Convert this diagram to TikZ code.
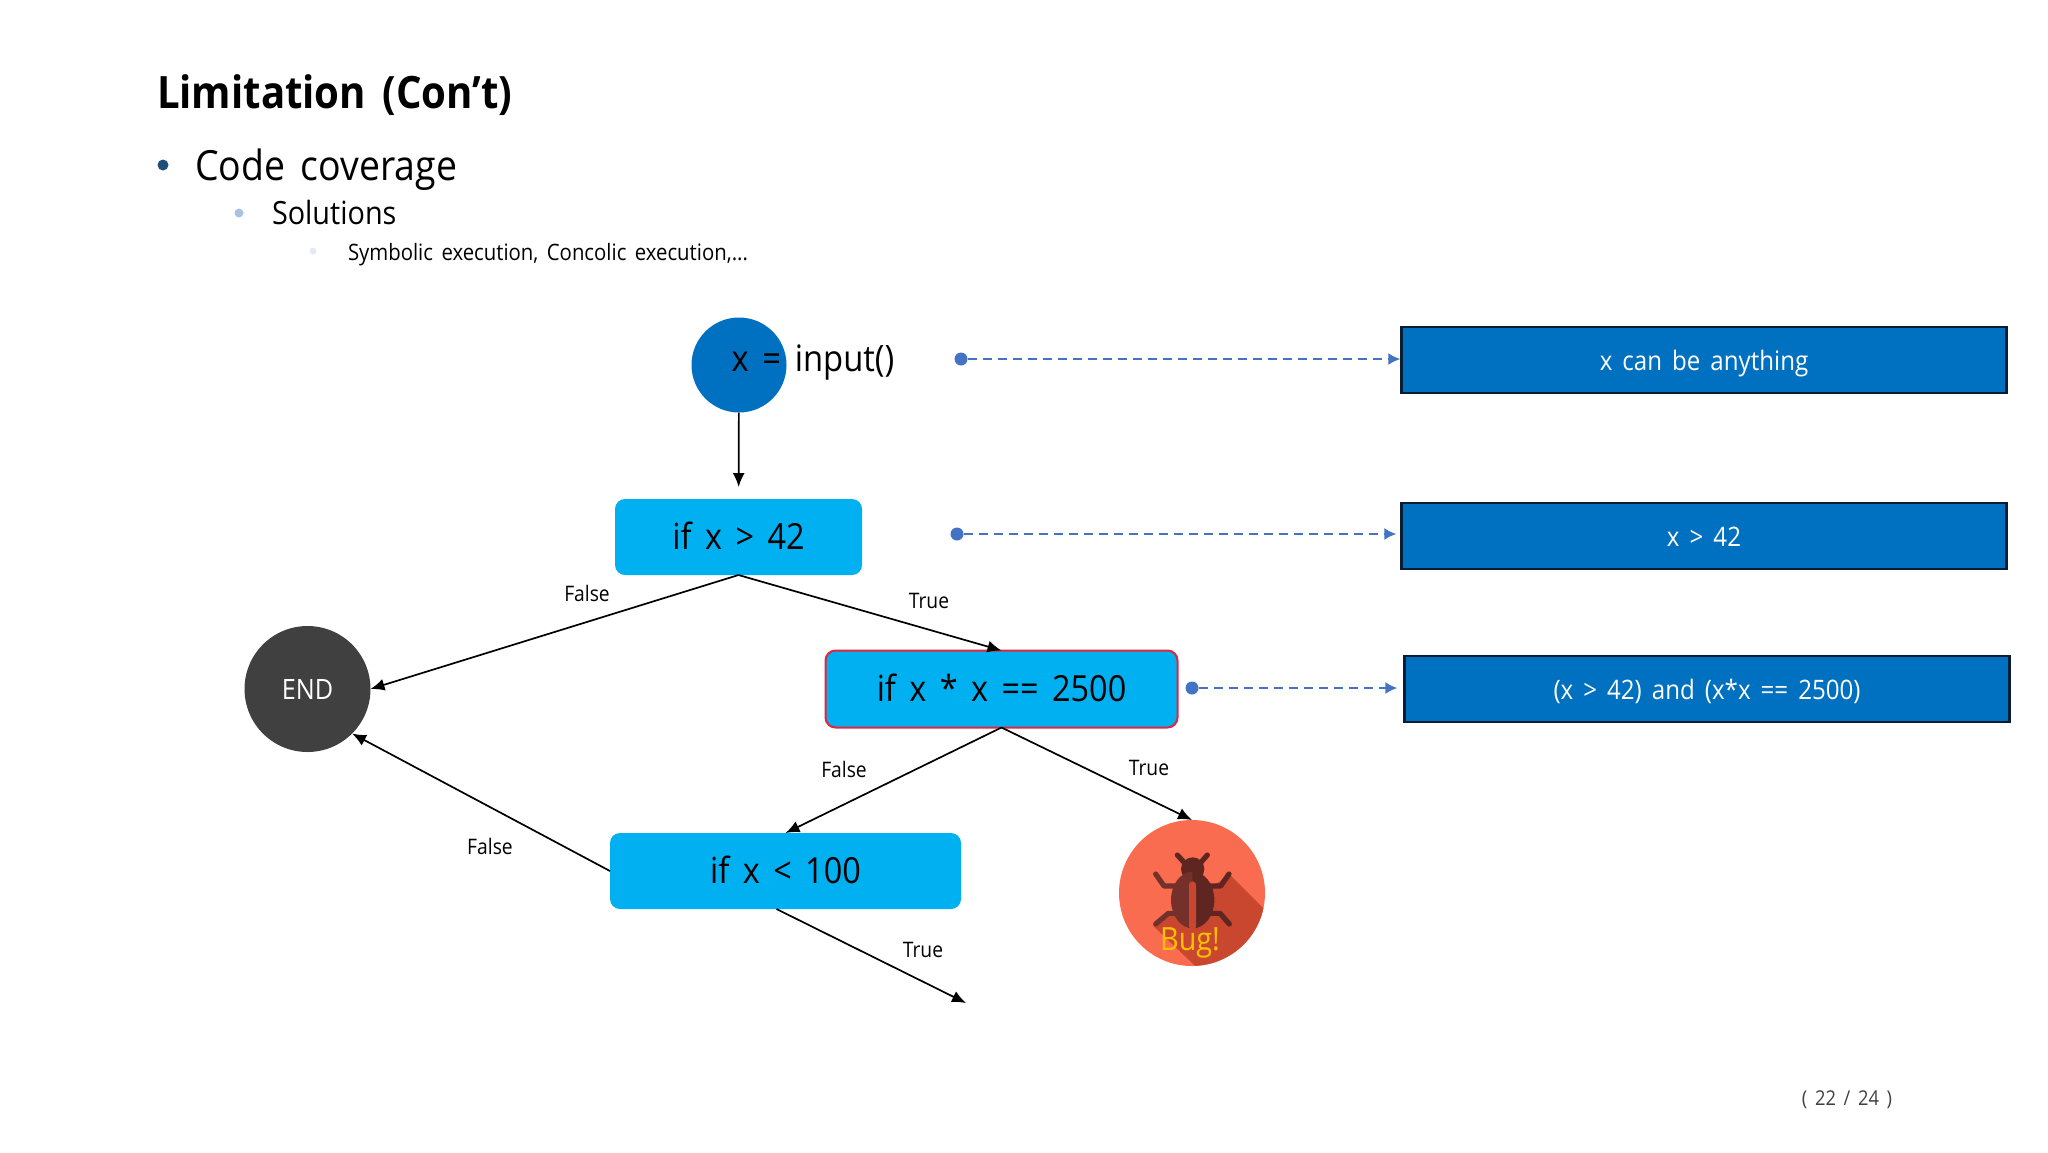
\documentclass[tikz,border=0pt]{standalone}
\usepackage{fontspec}
\setmainfont{Open Sans}[FakeStretch=0.9,WordSpace=1.6]
\usetikzlibrary{arrows.meta,shapes.geometric,calc}
\definecolor{boxblue}{HTML}{0070C0}
\definecolor{cyanbox}{HTML}{00B0F0}
\definecolor{linkblue}{HTML}{4472C4}
\definecolor{bugred}{HTML}{F96C50}
\definecolor{bugshade}{HTML}{C9472E}
\definecolor{bugbody}{HTML}{74302A}
\definecolor{bugdark}{HTML}{5F2520}
\definecolor{bulletone}{HTML}{1F4E79}
\definecolor{bullettwo}{HTML}{A6C3E3}
\definecolor{bulletthree}{HTML}{E4EAF5}
\definecolor{boxedge}{HTML}{0A1E33}
\newcommand{\fs}[1]{\fontsize{#1}{#1}\selectfont}
\tikzset{
  txt/.style={inner sep=0pt,outer sep=0pt,anchor=base west,text=black},
  ctxt/.style={inner sep=0pt,outer sep=0pt,text=black},
  cond/.style={rectangle,rounded corners=5pt,fill=cyanbox,inner sep=0pt,outer sep=0pt,text=black,font=\fs{18},text height=14pt,text depth=1.5pt},
  result/.style={rectangle,fill=boxblue,draw=boxedge,line width=1.2pt,minimum width=302.5pt,minimum height=33pt,inner sep=0pt,text=white,font=\fs{13.4},text height=11.5pt,text depth=1pt},
  dot/.style={circle,fill=linkblue,minimum size=6.5pt,inner sep=0pt,outer sep=0pt},
  bullet/.style={circle,inner sep=0pt,outer sep=0pt},
  flow/.style={line width=0.85pt,black,-{Latex[length=7pt,width=6pt]}},
  link/.style={line width=0.9pt,linkblue,dash pattern=on 4.5pt off 3pt,-{Latex[length=6pt,width=6pt]}},
  lab/.style={inner sep=0pt,text=black,font=\fs{10.7}},
}
\begin{document}
\begin{tikzpicture}[x=0.5pt,y=-0.5pt]
\useasboundingbox (0,0) rectangle (2048,1152);
% header text
\node[txt,font=\bfseries\fs{22.3}] (title) at (157,108) {Limitation (Con’t)};
\node[bullet,fill=bulletone,minimum size=5.5pt] (b1) at (163,165) {};
\node[txt,font=\fs{20.8}] (l1) at (195,180) {Code coverage};
\node[bullet,fill=bullettwo,minimum size=4.5pt] (b2) at (239,213) {};
\node[txt,font=\fs{16}] (l2) at (272,224) {Solutions};
\node[bullet,fill=bulletthree,minimum size=3.5pt] (b3) at (313,251) {};
\node[txt,font=\fs{11.3}] (l3) at (348,260) {Symbolic execution, Concolic execution,...};
% flow nodes
\node[circle,fill=boxblue,minimum size=47.5pt,inner sep=0pt,outer sep=0pt] (start) at (739,365) {};
\node[ctxt,font=\fs{18.2}] (inp) at (813,363) {x = input()};
\node[cond,minimum width=123.5pt,minimum height=38pt] (c1) at (738.5,537) {if x > 42};
\node[cond,draw={rgb,255:red,224;green,38;blue,60},line width=1pt,minimum width=176pt,minimum height=38.5pt] (c2) at (1001.5,689) {if x * x == 2500};
\node[cond,minimum width=175.5pt,minimum height=38pt] (c3) at (785.5,871) {if x < 100};
\node[circle,fill=black!75,minimum size=63pt,inner sep=0pt,outer sep=0pt,text=white,font=\fs{14}] (end) at (307.5,689) {END};
\node[circle,fill=bugred,minimum size=73pt,inner sep=0pt,outer sep=0pt] (bug) at (1192,893) {};
\coordinate (free) at (966,1003);
% bug artwork
\begin{scope}[shift={(1090,800)},x=0.16667pt,y=-0.16667pt]
\begin{scope}
\clip (306,278.5) circle [radius=219];
\fill[bugshade] (420,225) -- (560,365) -- (560,540) -- (360,540) -- (190,378) -- (300,300) -- cycle;
\end{scope}
\draw[bugbody,line width=2.6pt,line cap=round,line join=round] (197,222) -- (222,258) -- (270,258);
\draw[bugdark,line width=2.6pt,line cap=round,line join=round] (417,222) -- (392,258) -- (345,258);
\draw[bugbody,line width=2.6pt,line cap=round,line join=round] (197,372) -- (235,340) -- (270,340);
\draw[bugdark,line width=2.6pt,line cap=round,line join=round] (418,372) -- (390,340) -- (345,340);
\draw[bugdark,line width=2.6pt,line cap=round] (262,165) -- (285,190);
\draw[bugdark,line width=2.6pt,line cap=round] (352,165) -- (330,190);
\fill[bugdark] (308,207) circle [radius=35];
\fill[bugbody] (308,385) arc[start angle=90,end angle=270,x radius=65,y radius=85] -- cycle;
\fill[bugdark] (308,385) arc[start angle=90,end angle=-90,x radius=65,y radius=85] -- cycle;
\fill[bugshade,rounded corners=1.5pt] (297,245) rectangle (318,388);
\end{scope}
\node[ctxt,font=\fs{16},text={rgb,255:red,255;green,192;blue,0}] (bugtxt) at (1190,943) {Bug!};
% results
\node[result] (r1) at (1704,360) {x can be anything};
\node[result] (r2) at (1704,536) {x > 42};
\node[result] (r3) at (1707,689) {(x > 42) and (x*x == 2500)};
\node[dot] (d1) at (961,359) {};
\node[dot] (d2) at (957,534) {};
\node[dot] (d3) at (1192,688) {};
\draw[link] (d1) -- (d1 -| r1.west);
\draw[link,shorten >=2pt] (d2) -- (d2 -| r2.west);
\draw[link,shorten >=3pt] (d3) -- (d3 -| r3.west);
% flow connectors
\draw[flow,shorten >=6pt] (start) -- (c1);
\draw[flow] (c1.south) -- (end.east);
\draw[flow] (c1.south) -- (c2.north);
\draw[flow] (c2.south) -- (c3.north);
\draw[flow] (c2.south) -- (bug.north);
\draw[flow] (c3.west) -- (end.-45);
\draw[flow] ([xshift=-4.5pt]c3.south) -- (free);
% labels
\node[lab] (f1) at (587,593) {False};
\node[lab] (t1) at (929,601) {True};
\node[lab] (f2) at (844,769) {False};
\node[lab] (t2) at (1149,768) {True};
\node[lab] (f3) at (490,846) {False};
\node[lab] (t3) at (923,950) {True};
\node[ctxt,font=\fs{10.2},text=black!75] (page) at (1847,1100) {( 22 / 24 )};
\end{tikzpicture}
\end{document}
